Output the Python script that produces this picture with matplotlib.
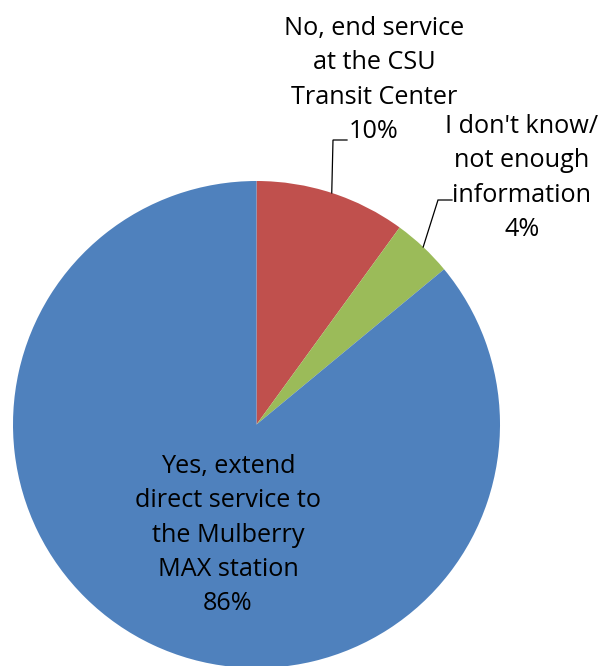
import numpy as np
import matplotlib
matplotlib.use("Agg")
import matplotlib.pyplot as plt

categories = ["No, end service\nat the CSU\nTransit Center",
              "I don't know/\nnot enough\ninformation",
              "Yes, extend\ndirect service to\nthe Mulberry\nMAX station"]
values = [10, 4, 86]
colors = ["#C0504D", "#9BBB59", "#4F81BD"]

W, H = 602, 666
fig = plt.figure(figsize=(W / 100, H / 100), dpi=100)
ax = fig.add_axes([0, 0, 1, 1])

cx, cy, R = 256.5, H - 424.5, 243.5
wedges, _ = ax.pie(values, colors=colors, startangle=90, counterclock=False,
                   center=(cx, cy), radius=R, wedgeprops=dict(linewidth=0))
ax.set_xlim(0, W)
ax.set_ylim(0, H)
ax.set_aspect("equal")
ax.axis("off")

font = dict(family=["Open Sans", "DejaVu Sans"], fontsize=18.2, color="#000000",
            ha="center", va="center", linespacing=1.5)

# label anchor positions (pixels from top) and leader elbow points
label_pos = [(374, 80), (522, 178), (228, 535)]
elbows = [((333, 140), (347, 140)), ((438, 200), (452, 200)), None]

for i, w in enumerate(wedges):
    txt = f"{categories[i]}\n{values[i]}%"
    x, y = label_pos[i]
    ax.text(x, H - y, txt, **font)
    if elbows[i] is not None:
        mid = np.deg2rad((w.theta1 + w.theta2) / 2)
        sx, sy = cx + R * np.cos(mid), cy + R * np.sin(mid)
        (ex, ey), (hx, hy) = elbows[i]
        ax.plot([sx, ex, hx], [sy, H - ey, H - hy], color="#000000", lw=0.9,
                solid_joinstyle="miter")

fig.savefig("out.png", dpi=100)
